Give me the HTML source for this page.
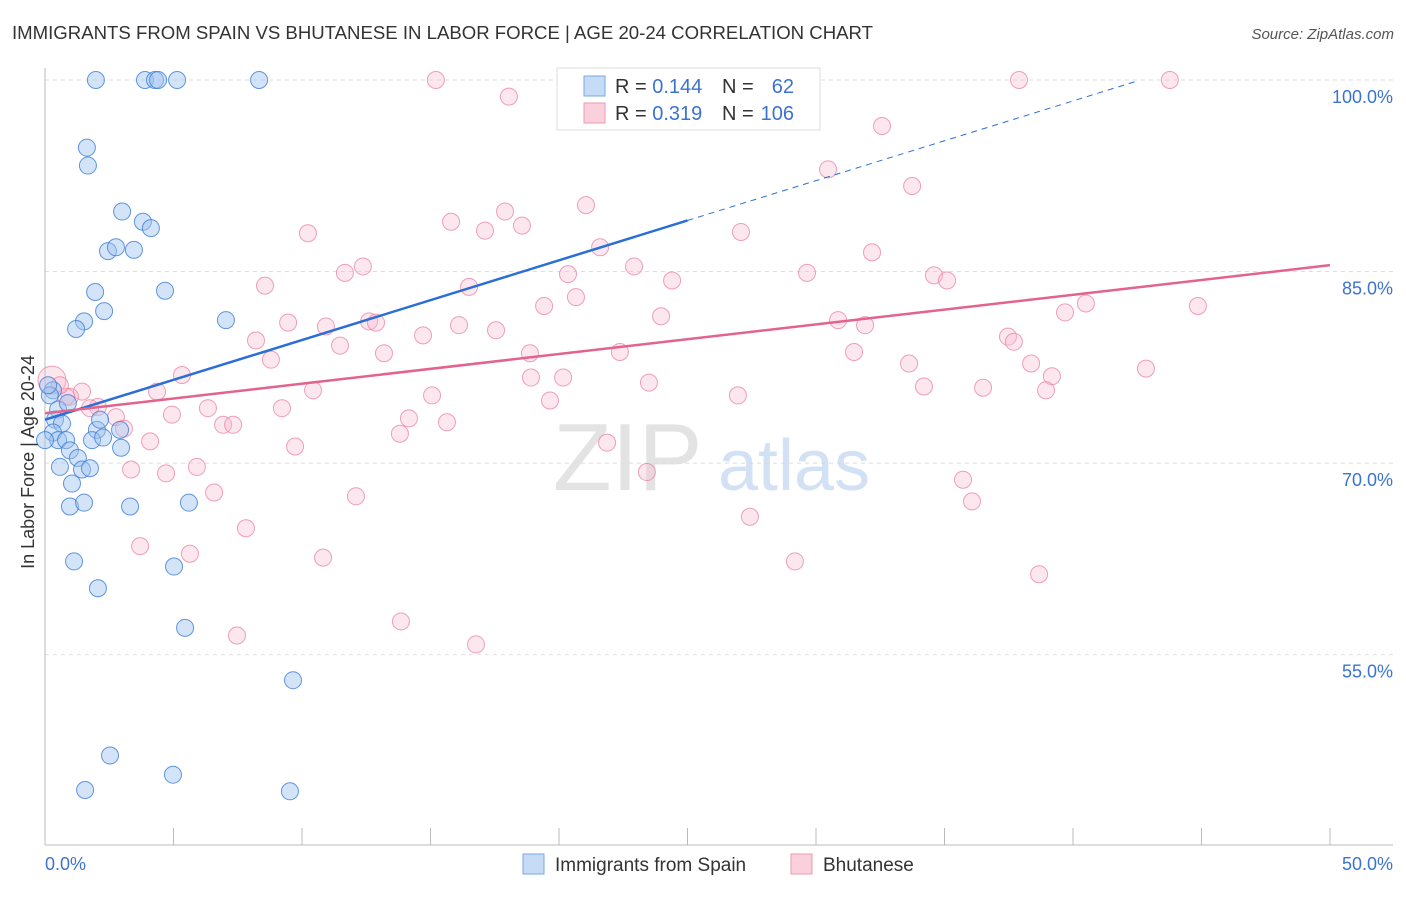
<!DOCTYPE html>
<html><head><meta charset="utf-8"><style>
body{margin:0;background:#fff;font-family:"Liberation Sans",sans-serif;}
svg text{font-family:"Liberation Sans",sans-serif;}
</style></head><body>
<svg id="chart" width="1406" height="892" viewBox="0 0 1406 892">
<text x="12" y="39" font-size="18.6" fill="#333">IMMIGRANTS FROM SPAIN VS BHUTANESE IN LABOR FORCE | AGE 20-24 CORRELATION CHART</text>
<text x="1394" y="39" font-size="15" fill="#555" font-style="italic" text-anchor="end">Source: ZipAtlas.com</text>
<g id="grid"></g>
<g><text x="553" y="490" font-size="96" font-family="Liberation Serif,serif" fill="#ddd" opacity="0.8">ZIP</text><text x="718" y="490" font-size="72" fill="#c9daf2" opacity="0.8">atlas</text></g>
<line x1="45" y1="68" x2="45" y2="845" stroke="#bbb"/>
<line x1="45" y1="845" x2="1393" y2="845" stroke="#bbb"/>
<g id="ticks"></g>
<g id="pts"></g>
<g id="lines"></g>
<text x="28" y="456" font-size="18" fill="#333" text-anchor="middle" transform="rotate(-90 34 456)">In Labor Force | Age 20-24</text>
<text x="45" y="870" font-size="18" fill="#3b73d1">0.0%</text>
<text x="1393" y="870" font-size="18" fill="#3b73d1" text-anchor="end">50.0%</text>
<g>
<rect x="557" y="68" width="263" height="62" fill="#fff" stroke="#ddd"/>
<rect x="584" y="76" width="21" height="20" fill="#c5dbf6" stroke="#7aa7e6"/>
<rect x="584" y="103" width="21" height="20" fill="#fbd0dd" stroke="#ee9ab4"/>
<text x="615" y="93" font-size="20" fill="#333">R = <tspan fill="#3b73d1">0.144</tspan></text>
<text x="722" y="93" font-size="20" fill="#333">N = </text><text x="794" y="93" font-size="20" fill="#3b73d1" text-anchor="end">62</text>
<text x="615" y="120" font-size="20" fill="#333">R = <tspan fill="#3b73d1">0.319</tspan></text>
<text x="722" y="120" font-size="20" fill="#333">N = </text><text x="794" y="120" font-size="20" fill="#3b73d1" text-anchor="end">106</text>
</g>
<g><rect x="523" y="854" width="21" height="20" fill="#c5dbf6" stroke="#7aa7e6"/><text x="555" y="871" font-size="19" fill="#333">Immigrants from Spain</text></g>
<g><rect x="791" y="854" width="21" height="20" fill="#fbd0dd" stroke="#ee9ab4"/><text x="823" y="871" font-size="19" fill="#333">Bhutanese</text></g>
</svg>
<script>
const yTicks=[100,85,70,55];
const yTickLabels=["100.0%","85.0%","70.0%","55.0%"];
const xTicks=[0,5,10,15,20,25,30,35,40,45,50];
const spainX=[1.98,3.89,4.28,4.40,5.14,8.33,20.93,1.63,1.67,3.0,3.81,4.12,2.45,2.76,3.46,1.95,2.30,1.52,1.21,4.67,7.04,0.31,0.19,0.12,0.51,0.89,0.39,0.66,0.31,0.51,0.82,0.97,1.28,1.44,1.75,0.58,2.02,1.83,2.14,2.92,2.96,1.05,0.97,1.52,3.31,5.60,1.13,2.06,5.02,5.45,9.65,2.53,4.98,1.56,9.53,0,2.26];
const spainY=[100,100,100,100,100,100,100,94.7,93.3,89.7,88.9,88.4,86.6,86.9,86.7,83.4,81.9,81.1,80.5,83.5,81.2,75.7,75.3,76.1,74.2,74.7,73.4,73.1,72.4,71.8,71.8,71.0,70.4,69.5,69.6,69.7,72.6,71.8,73.4,72.6,71.2,68.4,66.6,66.9,66.6,66.9,62.3,60.2,61.9,57.1,53.0,47.1,45.6,44.4,44.3,71.8,72.0];
const bhuX=[0.27,15.21,25.33,37.9,43.77,18.05,32.57,30.47,33.74,21.05,17.9,15.8,18.56,17.12,10.23,27.08,21.6,32.18,12.37,11.67,22.92,20.35,29.65,34.59,24.4,35.1,8.56,16.5,20.66,19.42,44.86,40.5,39.69,23.97,30.86,31.91,9.46,10.93,12.61,12.88,16.11,17.55,8.21,11.48,14.71,37.47,37.7,8.79,13.19,18.87,22.37,31.48,18.91,20.16,33.62,38.37,39.18,38.95,5.33,10.43,4.36,23.5,34.2,36.5,42.84,26.96,15.06,19.65,1.44,0.97,2.06,4.94,6.34,9.22,2.76,3.07,14.16,13.81,15.64,6.93,7.32,4.09,9.73,3.35,4.71,5.91,21.87,23.42,6.58,12.1,35.72,36.07,7.82,27.43,3.7,5.64,10.82,29.18,38.68,13.85,7.47,16.77,0.82,0.58,1.75];
const bhuY=[76.5,100,100,100,100,98.7,96.4,93.0,91.7,90.2,89.7,88.9,88.6,88.2,88.0,88.1,86.9,86.5,85.4,84.9,85.4,84.8,84.9,84.7,84.3,84.3,83.9,83.8,83.0,82.3,82.3,82.5,81.8,81.5,81.2,80.8,81.0,80.7,81.1,81.0,80.8,80.4,79.6,79.2,80.0,79.9,79.5,78.1,78.6,78.6,78.7,78.7,76.7,76.7,77.8,77.8,76.8,75.7,76.9,75.7,75.6,76.3,76.0,75.9,77.4,75.3,75.3,74.9,75.6,75.2,74.4,73.8,74.3,74.3,73.6,72.7,73.5,72.3,73.2,73.0,73.0,71.7,71.3,69.5,69.2,69.7,71.6,69.3,67.7,67.4,68.7,67.0,64.9,65.8,63.5,62.9,62.6,62.3,61.3,57.6,56.5,55.8,75.2,76.1,74.3];
const spainTrend=[73.4,89.0];
const bhuTrend=[73.9,85.5];
const NS="http://www.w3.org/2000/svg";
function sx(v){return 45+v*25.7;}
function sy(v){return 80+(100-v)*12.77;}
function mk(tag,attrs,parent){const e=document.createElementNS(NS,tag);for(const k in attrs)e.setAttribute(k,attrs[k]);parent.appendChild(e);return e;}
const grid=document.getElementById('grid');
yTicks.forEach((t,i)=>{
 const l=mk('line',{x1:45,x2:1393,y1:sy(t),y2:sy(t),stroke:'#ddd','stroke-dasharray':'4,4'},grid);
 
 
 const tx=mk('text',{x:1393,y:sy(t)+23,'font-size':18,fill:'#3b73d1','text-anchor':'end'},grid);
 tx.textContent=yTickLabels[i];
 
 
});
const tk=document.getElementById('ticks');
xTicks.forEach(t=>{
 const l=mk('line',{x1:sx(t),x2:sx(t),y1:828,y2:845,stroke:'#bbb'},tk);
 
 
});
const pts=document.getElementById('pts');
bhuX.forEach((x,i)=>{
 const c=mk('circle',{cx:sx(x),cy:sy(bhuY[i]),r:i===0?14:8.5,fill:'rgba(248,185,205,0.35)',stroke:'rgba(232,130,162,0.75)','stroke-width':1},pts);
 
 
});
spainX.forEach((x,i)=>{
 const c=mk('circle',{cx:sx(x),cy:sy(spainY[i]),r:8.5,fill:'rgba(160,195,240,0.45)',stroke:'rgba(60,125,215,0.8)','stroke-width':1},pts);
 
 
});
const lines=document.getElementById('lines');
function ty(tr,x){return tr[0]+(tr[1]-tr[0])*x/(tr===spainTrend?25:50);}
let a=mk('line',{x1:sx(0),y1:sy(ty(spainTrend,0)),x2:sx(25),y2:sy(ty(spainTrend,25)),stroke:'#2b6fd6','stroke-width':2.5},lines);


let b=mk('line',{x1:sx(25),y1:sy(ty(spainTrend,25)),x2:sx(42.5),y2:sy(ty(spainTrend,42.5)),stroke:'#2b6fd6','stroke-width':1,'stroke-dasharray':'6,5'},lines);


let c=mk('line',{x1:sx(0),y1:sy(ty(bhuTrend,0)),x2:sx(50),y2:sy(ty(bhuTrend,50)),stroke:'#e3628e','stroke-width':2.5},lines);


</script>
</body></html>
